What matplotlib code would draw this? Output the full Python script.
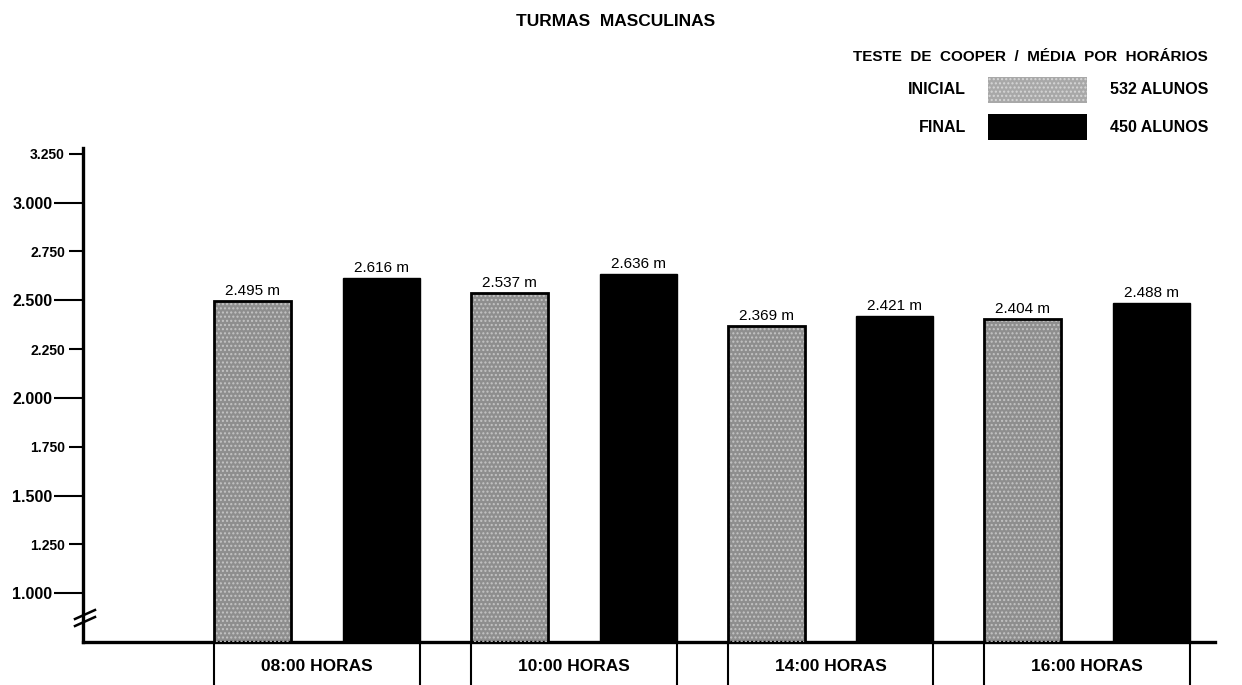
import matplotlib
matplotlib.use("Agg")
import matplotlib.pyplot as plt
from matplotlib.patches import Rectangle
from matplotlib.lines import Line2D
from matplotlib.ticker import FixedLocator, FuncFormatter

plt.rcParams["font.family"] = ["Liberation Sans", "DejaVu Sans"]

# dados (metros)
horarios = ["08:00 HORAS", "10:00 HORAS", "14:00 HORAS", "16:00 HORAS"]
inicial = [2495, 2537, 2369, 2404]
final = [2616, 2636, 2421, 2488]
serie_labels = ["INICIAL", "FINAL"]
serie_alunos = ["532 ALUNOS", "450 ALUNOS"]
major_ticks = [1000, 1500, 2000, 2500, 3000]
minor_ticks = [1250, 1750, 2250, 2750, 3250]

W, H = 1242, 685
fig = plt.figure(figsize=(W / 100, H / 100), dpi=100)


def fx(px):
    return px / W


def fy(py):
    return 1 - py / H


ax = fig.add_axes([fx(83), fy(642), fx(1215) - fx(83), fy(148) - fy(642)])

x = list(range(len(horarios)))
off = 0.251
bw = 0.30
GRAY = "#8e8e8e"

# barras iniciais: fundo cinza + textura pontilhada + contorno preto
ax.bar([i - off for i in x], inicial, bw, color=GRAY, linewidth=0, zorder=2)
ax.bar([i - off for i in x], inicial, bw, fill=False, edgecolor="#c4c4c4",
       hatch="....", linewidth=0, zorder=3)
ax.bar([i - off for i in x], inicial, bw, fill=False, edgecolor="black",
       linewidth=2, zorder=4)
ax.bar([i + off for i in x], final, bw, color="black", edgecolor="black",
       linewidth=1, zorder=4)

for i in x:
    ax.text(i - off, inicial[i] + 16, f"{inicial[i] / 1000:.3f} m",
            ha="center", va="bottom", fontsize=11, zorder=5)
    ax.text(i + off, final[i] + 16, f"{final[i] / 1000:.3f} m",
            ha="center", va="bottom", fontsize=11, zorder=5)

ax.set_xlim(-0.912, 3.498)
ax.set_ylim(750, 3280)

for s in ["top", "right"]:
    ax.spines[s].set_visible(False)
ax.spines["left"].set_linewidth(2.4)
ax.spines["bottom"].set_linewidth(2.4)

ax.set_xticks([])
fmt = FuncFormatter(lambda v, p: f"{v / 1000:.3f}")
ax.yaxis.set_major_locator(FixedLocator(major_ticks))
ax.yaxis.set_minor_locator(FixedLocator(minor_ticks))
ax.yaxis.set_major_formatter(fmt)
ax.yaxis.set_minor_formatter(fmt)
ax.tick_params(axis="y", which="major", length=21, width=1.5, pad=1,
               labelsize=11.5)
ax.tick_params(axis="y", which="minor", length=10, width=1.5, pad=3,
               labelsize=10)
for lab in ax.yaxis.get_majorticklabels() + ax.yaxis.get_minorticklabels():
    lab.set_fontweight("bold")

# caixas dos horários abaixo do eixo
tr = ax.get_xaxis_transform()
for i, h in enumerate(horarios):
    left = i - off - bw / 2
    right = i + off + bw / 2
    for xx in (left, right):
        ax.plot([xx, xx], [0, -0.1], transform=tr, color="black",
                linewidth=1.5, clip_on=False)
    ax.text(i, -0.049, h, transform=tr, ha="center", va="center",
            fontsize=12.5, fontweight="bold")

# quebra do eixo
for dy in (0, 7):
    fig.add_artist(Line2D([fx(75), fx(95)], [fy(619 + dy), fy(610 + dy)],
                          color="black", linewidth=1.8))

# título
fig.text(0.496, fy(21), "TURMAS  MASCULINAS", ha="center", va="center",
         fontsize=12.5, fontweight="bold")

# legenda
fig.text(fx(1208), fy(57), "TESTE  DE  COOPER  /  MÉDIA  POR  HORÁRIOS",
         ha="right", va="center", fontsize=11, fontweight="bold")
rows = [(90, "#a8a8a8", "...."), (127, "black", None)]
for (yc, col, hatch), lab, n in zip(rows, serie_labels, serie_alunos):
    fig.text(fx(966), fy(yc), lab, ha="right", va="center", fontsize=11.5,
             fontweight="bold")
    fig.add_artist(Rectangle((fx(988), fy(yc + 13)), fx(1087) - fx(988),
                             fy(yc - 13) - fy(yc + 13), facecolor=col,
                             linewidth=0))
    if hatch:
        fig.add_artist(Rectangle((fx(988), fy(yc + 13)), fx(1087) - fx(988),
                                 fy(yc - 13) - fy(yc + 13), fill=False,
                                 edgecolor="#d6d6d6", hatch=hatch,
                                 linewidth=0))
    fig.text(fx(1208), fy(yc), n, ha="right", va="center", fontsize=11.5,
             fontweight="bold")

fig.savefig("out.png", dpi=100)
